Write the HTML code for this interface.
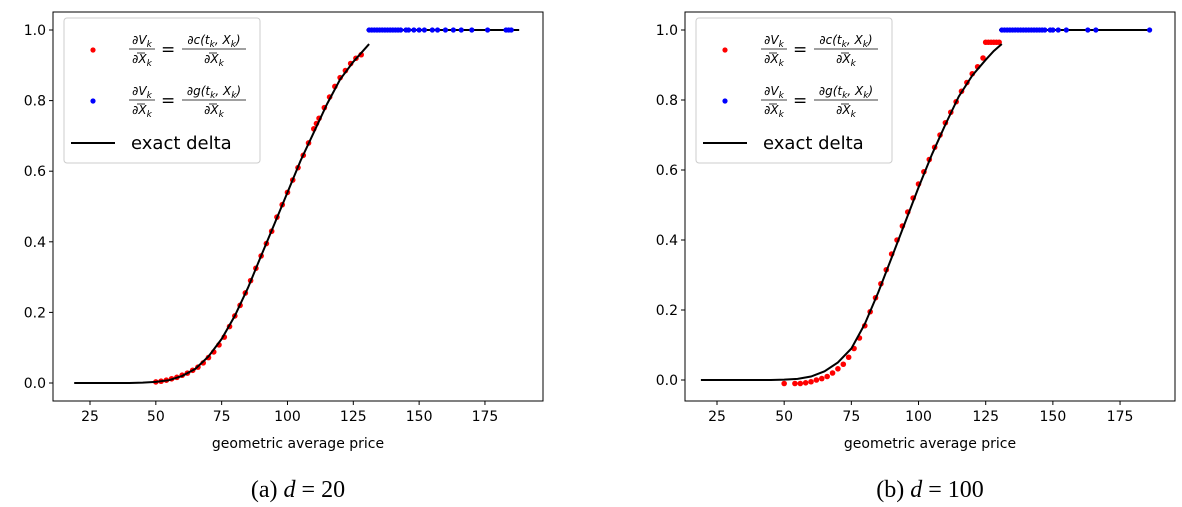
<!DOCTYPE html>
<html><head><meta charset="utf-8"><style>
html,body{margin:0;padding:0;background:#fff;width:1182px;height:507px;overflow:hidden}
svg{display:block}
text{font-family:"DejaVu Sans","Liberation Sans",sans-serif;fill:#000}
.cap{font-family:"Liberation Serif",serif;font-size:24px}
</style></head><body>
<svg id="chart" width="1182" height="507"></svg>
<script>
// ---- data ----
const xTicks=[25,50,75,100,125,150,175];
const yTicks=[0.0,0.2,0.4,0.6,0.8,1.0];
const yTickLabels=["0.0","0.2","0.4","0.6","0.8","1.0"];
const curveX=[19,30,40,45,50,55,60,65,70,75,80,85,90,95,100,105,110,115,120,125,128,131];
const curveY=[0,0,0,0.001,0.003,0.008,0.02,0.04,0.075,0.125,0.19,0.27,0.36,0.45,0.54,0.63,0.71,0.79,0.86,0.91,0.935,0.96];
const flatXA=[130,188];
const curveX2=[19,30,40,45,50,55,60,65,70,75,80,85,90,95,100,105,110,115,120,125,128,131];
const curveY2=[0,0,0,0,0.001,0.003,0.01,0.025,0.05,0.09,0.16,0.25,0.35,0.45,0.55,0.645,0.73,0.81,0.87,0.915,0.94,0.96];
const flatXB=[130,186];
const redXA=[50,52,54,56,58,60,62,64,66,68,70,72,74,76,78,80,82,84,86,88,90,92,94,96,98,100,102,104,106,108,110,111,112,114,116,118,120,122,124,126,128];
const redYA=[0.003,0.005,0.008,0.012,0.016,0.022,0.028,0.036,0.045,0.057,0.072,0.088,0.108,0.13,0.16,0.19,0.22,0.255,0.29,0.325,0.36,0.395,0.43,0.47,0.505,0.54,0.575,0.61,0.645,0.68,0.72,0.735,0.75,0.78,0.81,0.84,0.865,0.885,0.905,0.92,0.93];
const blueXA=[131,132,133,134,135,136,137,138,139,140,141,142,143,145,146,148,150,152,155,157,160,163,166,170,176,183,184,185];
const redXB=[50,54,56,58,60,62,64,66,68,70,72,74,76,78,80,82,84,86,88,90,92,94,96,98,100,102,104,106,108,110,112,114,116,118,120,122,124,125,126,127,128,129,130];
const redYB=[-0.01,-0.01,-0.01,-0.008,-0.005,0,0.004,0.01,0.02,0.032,0.045,0.065,0.09,0.12,0.155,0.195,0.235,0.275,0.315,0.36,0.4,0.44,0.48,0.52,0.56,0.595,0.63,0.665,0.7,0.735,0.765,0.795,0.825,0.85,0.875,0.895,0.92,0.965,0.965,0.965,0.965,0.965,0.965];
const blueXB=[131,132,133,134,135,136,137,138,139,140,141,142,143,144,145,146,147,149,150,152,155,163,166,186];

const NS="http://www.w3.org/2000/svg";
const svg=document.getElementById('chart');
function mk(tag,attrs,parent,txt){const e=document.createElementNS(NS,tag);for(const k in attrs)e.setAttribute(k,attrs[k]);if(txt!==undefined)e.textContent=txt;(parent||svg).appendChild(e);return e;}
function rich(parent,x,y,parts,anchor){
  const t=mk('text',{x:x,y:y,'font-size':12,'font-style':'italic','text-anchor':anchor||'start'},parent);
  parts.forEach(p=>{
    if(p[1]) mk('tspan',{'font-size':9,dy:3},t,p[0]);
    else mk('tspan',{'font-size':12,dy:p[2]?-3:0},t,p[0]);
  });
  return t;
}

function panel(cfg){
  const g=mk('g',{});
  
  
  const sx=v=>cfg.x25+(v-25)*cfg.pxu;
  const sy=v=>cfg.y0-v*cfg.pyu;
  const fr=mk('rect',{x:cfg.L,y:cfg.T,width:cfg.R-cfg.L,height:cfg.B-cfg.T,fill:'none',stroke:'#000','stroke-width':1},g);
  
  
  xTicks.forEach(t=>{
    const x=sx(t);
    mk('line',{x1:x,x2:x,y1:cfg.B,y2:cfg.B+4,stroke:'#000'},g);
    const tl=mk('text',{x:x,y:cfg.B+20,'font-size':14,'text-anchor':'middle'},g,String(t));
    
    
  });
  yTicks.forEach((t,i)=>{
    const y=sy(t);
    mk('line',{x1:cfg.L-4,x2:cfg.L,y1:y,y2:y,stroke:'#000'},g);
    const tl=mk('text',{x:cfg.L-7,y:y+5,'font-size':14,'text-anchor':'end'},g,yTickLabels[i]);
    
    
  });
  const xl=mk('text',{x:(cfg.L+cfg.R)/2,y:cfg.B+47,'font-size':14,'text-anchor':'middle'},g,'geometric average price');
  
  
  cfg.rx.forEach((v,i)=>{
    const c=mk('circle',{cx:sx(v),cy:sy(cfg.ry[i]),r:2.8,fill:'#ff0000'},g);
    
    
  });
  const d=cfg.cx.map((v,i)=>(i?'L':'M')+sx(v).toFixed(1)+','+sy(cfg.cy[i]).toFixed(1)).join(' ');
  const p=mk('path',{d:d,fill:'none',stroke:'#000','stroke-width':2},g);
  
  
  const f=mk('line',{x1:sx(cfg.fx[0]),x2:sx(cfg.fx[1]),y1:sy(1),y2:sy(1),stroke:'#000','stroke-width':2},g);
  
  
  cfg.bx.forEach(v=>{
    const c=mk('circle',{cx:sx(v),cy:sy(1),r:2.6,fill:'#0000ff'},g);
    
    
  });
  const lx=cfg.L+11, ly=cfg.T+6;
  const lg=mk('g',{transform:`translate(${lx},${ly})`},g);
  
  
  mk('rect',{x:0,y:0,width:196,height:145,rx:3,fill:'#fff','fill-opacity':0.85,stroke:'#ccc'},lg);
  const entry=(dy,col,fn,nm)=>{
    const e=mk('g',{transform:`translate(0,${dy})`},lg);
    
    
    mk('circle',{cx:29,cy:32,r:2.6,fill:col},e);
    rich(e,78,26,[['∂V'],['k',1]],'middle');
    mk('line',{x1:65,x2:91,y1:31,y2:31,stroke:'#000','stroke-width':0.8},e);
    rich(e,78,45,[['∂X'],['k',1]],'middle');
    mk('line',{x1:73,x2:81,y1:35,y2:35,stroke:'#000','stroke-width':0.8},e);
    mk('text',{x:97,y:37,'font-size':17},e,'=');
    rich(e,150,26,[['∂'+fn+'(t'],['k',1],[', X',0,1],['k',1],[')',0,1]],'middle');
    mk('line',{x1:118,x2:182,y1:31,y2:31,stroke:'#000','stroke-width':0.8},e);
    rich(e,150,45,[['∂X'],['k',1]],'middle');
    mk('line',{x1:145,x2:153,y1:35,y2:35,stroke:'#000','stroke-width':0.8},e);
  };
  entry(0,'#ff0000','c','legend-entry-continuation');
  entry(51,'#0000ff','g','legend-entry-stopping');
  const e3=mk('g',{},lg);
  
  
  mk('line',{x1:7,x2:51,y1:125,y2:125,stroke:'#000','stroke-width':2},e3);
  mk('text',{x:67,y:131,'font-size':18},e3,'exact delta');
  const cap=mk('text',{x:(cfg.L+cfg.R)/2,y:497,'text-anchor':'middle',class:'cap'},svg);
  cap.innerHTML=cfg.cap;
  
  
}
panel({name:'panel-d20',L:53,R:543,T:12,B:401,x25:90,pxu:2.633,y0:383,pyu:353,rx:redXA,ry:redYA,bx:blueXA,cx:curveX,cy:curveY,fx:flatXA,cap:'(a) <tspan font-style="italic">d</tspan> = 20'});
panel({name:'panel-d100',L:685,R:1175,T:12,B:401,x25:717,pxu:2.687,y0:380,pyu:350,rx:redXB,ry:redYB,bx:blueXB,cx:curveX2,cy:curveY2,fx:flatXB,cap:'(b) <tspan font-style="italic">d</tspan> = 100'});
</script>
</body></html>
